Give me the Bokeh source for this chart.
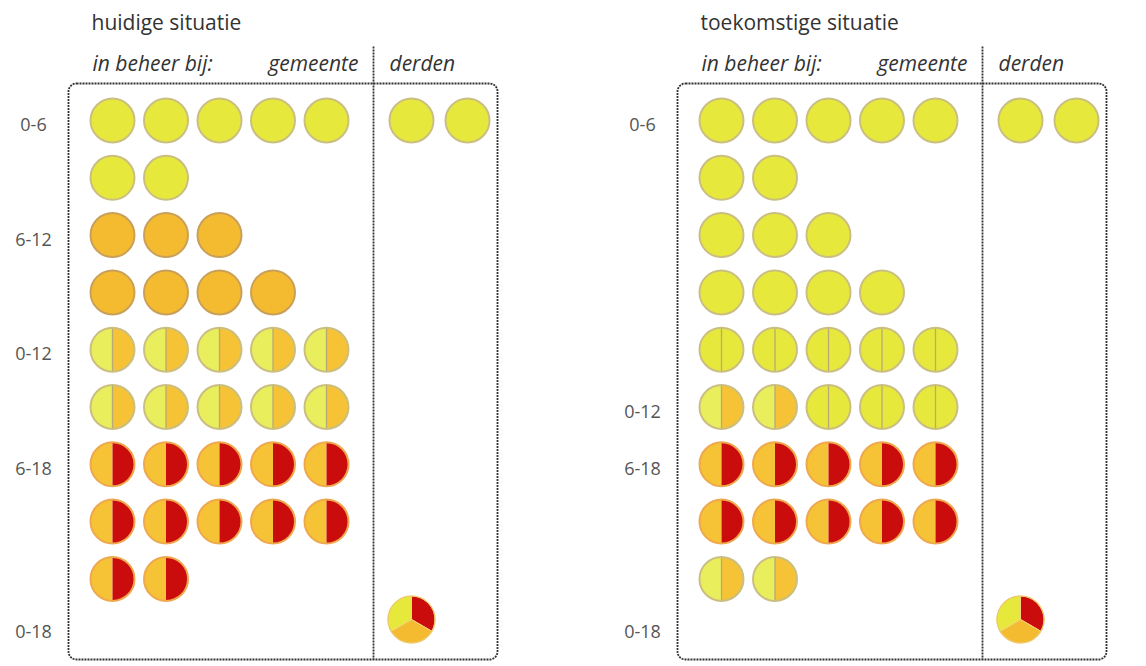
import math
from bokeh.plotting import figure
from bokeh.models import Range1d, BoxAnnotation, ColumnDataSource
from bokeh.embed import file_html
from bokeh.resources import INLINE
from bokeh.core.properties import value

# ---------------- data ----------------
panel_titles = ["huidige situatie", "toekomstige situatie"]
owner_header = "in beheer bij:"
owners = ["gemeente", "derden"]

# circle kind per row, gemeente columns (Y = 0-6, O = 6-12, YO/YY/OR = split groups)
huidige_rows = [
    ["Y", "Y", "Y", "Y", "Y"],
    ["Y", "Y"],
    ["O", "O", "O"],
    ["O", "O", "O", "O"],
    ["YO", "YO", "YO", "YO", "YO"],
    ["YO", "YO", "YO", "YO", "YO"],
    ["OR", "OR", "OR", "OR", "OR"],
    ["OR", "OR", "OR", "OR", "OR"],
    ["OR", "OR"],
]
toekomst_rows = [
    ["Y", "Y", "Y", "Y", "Y"],
    ["Y", "Y"],
    ["Y", "Y", "Y"],
    ["Y", "Y", "Y", "Y"],
    ["YY", "YY", "YY", "YY", "YY"],
    ["YO", "YO", "YY", "YY", "YY"],
    ["OR", "OR", "OR", "OR", "OR"],
    ["OR", "OR", "OR", "OR", "OR"],
    ["YO", "YO"],
]
# derden: row 0 circles
huidige_derden = ["Y", "Y"]
toekomst_derden = ["Y", "Y"]
# derden 0-18 pie (shares of R, O, Y going round)
pie_parts = ["R", "O", "Y"]
pie_shares = [1, 1, 1]

huidige_labels = ["0-6", "6-12", "0-12", "6-18", "0-18"]
huidige_label_rows = [0, 2, 4, 6, 9]
toekomst_labels = ["0-6", "0-12", "6-18", "0-18"]
toekomst_label_rows = [0, 5, 6, 9]

panels = [
    (huidige_rows, huidige_derden, huidige_labels, huidige_label_rows),
    (toekomst_rows, toekomst_derden, toekomst_labels, toekomst_label_rows),
]

# ---------------- style / layout ----------------
YEL = "#e6e93c"
YEL_L = "#e9ee5c"
ORG = "#f4bb30"
ORG_S = "#f6c236"
RED = "#cb0c0c"
EDGE_Y = "#cabf80"
EDGE_O = "#c9a05a"
EDGE_R = "#eea84e"
MID = "#b8aa78"
DOT = "#333333"
TXT = "#333333"
FONT = "Open Sans"

W, H = 1130, 662
COL_W, ROW_H = 53.5, 57.3
X0_PX, Y0_PX = 112, 120          # page px of first circle


def ux(px):
    return (px - X0_PX) / COL_W


def uy(py):
    return (py - Y0_PX) / ROW_H


PANEL_DX = 609 / COL_W
DERDEN_X0 = ux(411)
DERDEN_DX = 56 / COL_W
PIE_ROW = uy(619)
R = 22 / COL_W
R_PIE = 23.5 / COL_W


def row_y(r):
    return PIE_ROW if r >= 9 else r


p = figure(width=W, height=H, output_backend="svg", toolbar_location=None,
           x_range=Range1d(ux(0), ux(W)), y_range=Range1d(uy(H), uy(0)),
           min_border=0)
p.axis.visible = False
p.grid.visible = False
p.outline_line_color = None
p.background_fill_color = "white"

wx, wy, ws, we, wc = [], [], [], [], []
ox, oy, oc = [], [], []
mx, my0, my1 = [], [], []


def add_circle(x, y, kind):
    if kind in ("Y", "O"):
        wx.append(x); wy.append(y); ws.append(0); we.append(2 * math.pi)
        wc.append(YEL if kind == "Y" else ORG)
        ox.append(x); oy.append(y); oc.append(EDGE_Y if kind == "Y" else EDGE_O)
    else:
        left = {"YO": YEL_L, "YY": YEL, "OR": ORG_S}[kind]
        right = {"YO": ORG_S, "YY": YEL, "OR": RED}[kind]
        wx.extend([x, x]); wy.extend([y, y])
        ws.extend([math.pi / 2, -math.pi / 2]); we.extend([3 * math.pi / 2, math.pi / 2])
        wc.extend([left, right])
        ox.append(x); oy.append(y); oc.append(EDGE_R if kind == "OR" else EDGE_Y)
        if kind != "OR":
            h = R * COL_W / ROW_H
            mx.append(x); my0.append(y - h); my1.append(y + h)


pie_color = {"R": RED, "Y": YEL, "O": ORG}
for pi, (rows, derden, labels, label_rows) in enumerate(panels):
    off = pi * PANEL_DX
    for r, kinds in enumerate(rows):
        for c, k in enumerate(kinds):
            add_circle(off + c, r, k)
    for c, k in enumerate(derden):
        add_circle(off + DERDEN_X0 + c * DERDEN_DX, 0, k)
    # pie
    px_, py_ = off + DERDEN_X0, PIE_ROW
    tot = sum(pie_shares)
    a = math.pi / 2
    for part, sh in zip(pie_parts, pie_shares):
        span = 2 * math.pi * sh / tot
        p.wedge(x=px_, y=py_, radius=R_PIE, start_angle=a - span, end_angle=a,
                fill_color=pie_color[part], line_color="#f2d27a", line_width=1)
        a -= span
    p.circle(x=px_, y=py_, radius=R_PIE, fill_color=None, line_color="#ecc868", line_width=1.2)

    # frame
    p.add_layout(BoxAnnotation(left=off + ux(68), right=off + ux(497), top=uy(83), bottom=uy(659),
                               fill_alpha=0, line_color=DOT, line_alpha=1, line_width=1.8,
                               line_dash="2 1", border_radius=8))
    p.segment(x0=off + ux(373), y0=uy(46), x1=off + ux(373), y1=uy(659),
              line_color=DOT, line_width=1.8, line_dash="2 1")

    # texts
    p.text(x=[off + ux(91)], y=[uy(21)], text=[panel_titles[pi]], text_font=value(FONT),
           text_font_size="21px", text_color=TXT, text_baseline="middle")
    p.text(x=[off + ux(92)], y=[uy(62)], text=[owner_header], text_font=value(FONT),
           text_font_style="italic", text_font_size="21px", text_color=TXT, text_baseline="middle")
    p.text(x=[off + ux(358)], y=[uy(62)], text=[owners[0]], text_font=value(FONT),
           text_font_style="italic", text_font_size="21px", text_color=TXT,
           text_baseline="middle", text_align="right")
    p.text(x=[off + ux(389)], y=[uy(62)], text=[owners[1]], text_font=value(FONT),
           text_font_style="italic", text_font_size="21px", text_color=TXT, text_baseline="middle")
    p.text(x=[off + ux(33)] * len(labels),
           y=[row_y(r) + (12 / ROW_H if r >= 9 else 4 / ROW_H) for r in label_rows],
           text=labels, text_font=value(FONT), text_font_size="18px", text_color="#555555",
           text_baseline="middle", text_align="center")

src = ColumnDataSource(dict(x=wx, y=wy, s=ws, e=we, c=wc))
p.wedge(x="x", y="y", radius=R, start_angle="s", end_angle="e", fill_color="c",
        line_color=None, source=src)
p.segment(x0=mx, y0=my0, x1=mx, y1=my1, line_color=MID, line_width=1.3)
p.circle(x=ox, y=oy, radius=R, fill_color=None, line_color=oc, line_width=2)

open("out.html", "w").write(file_html(p, INLINE))
